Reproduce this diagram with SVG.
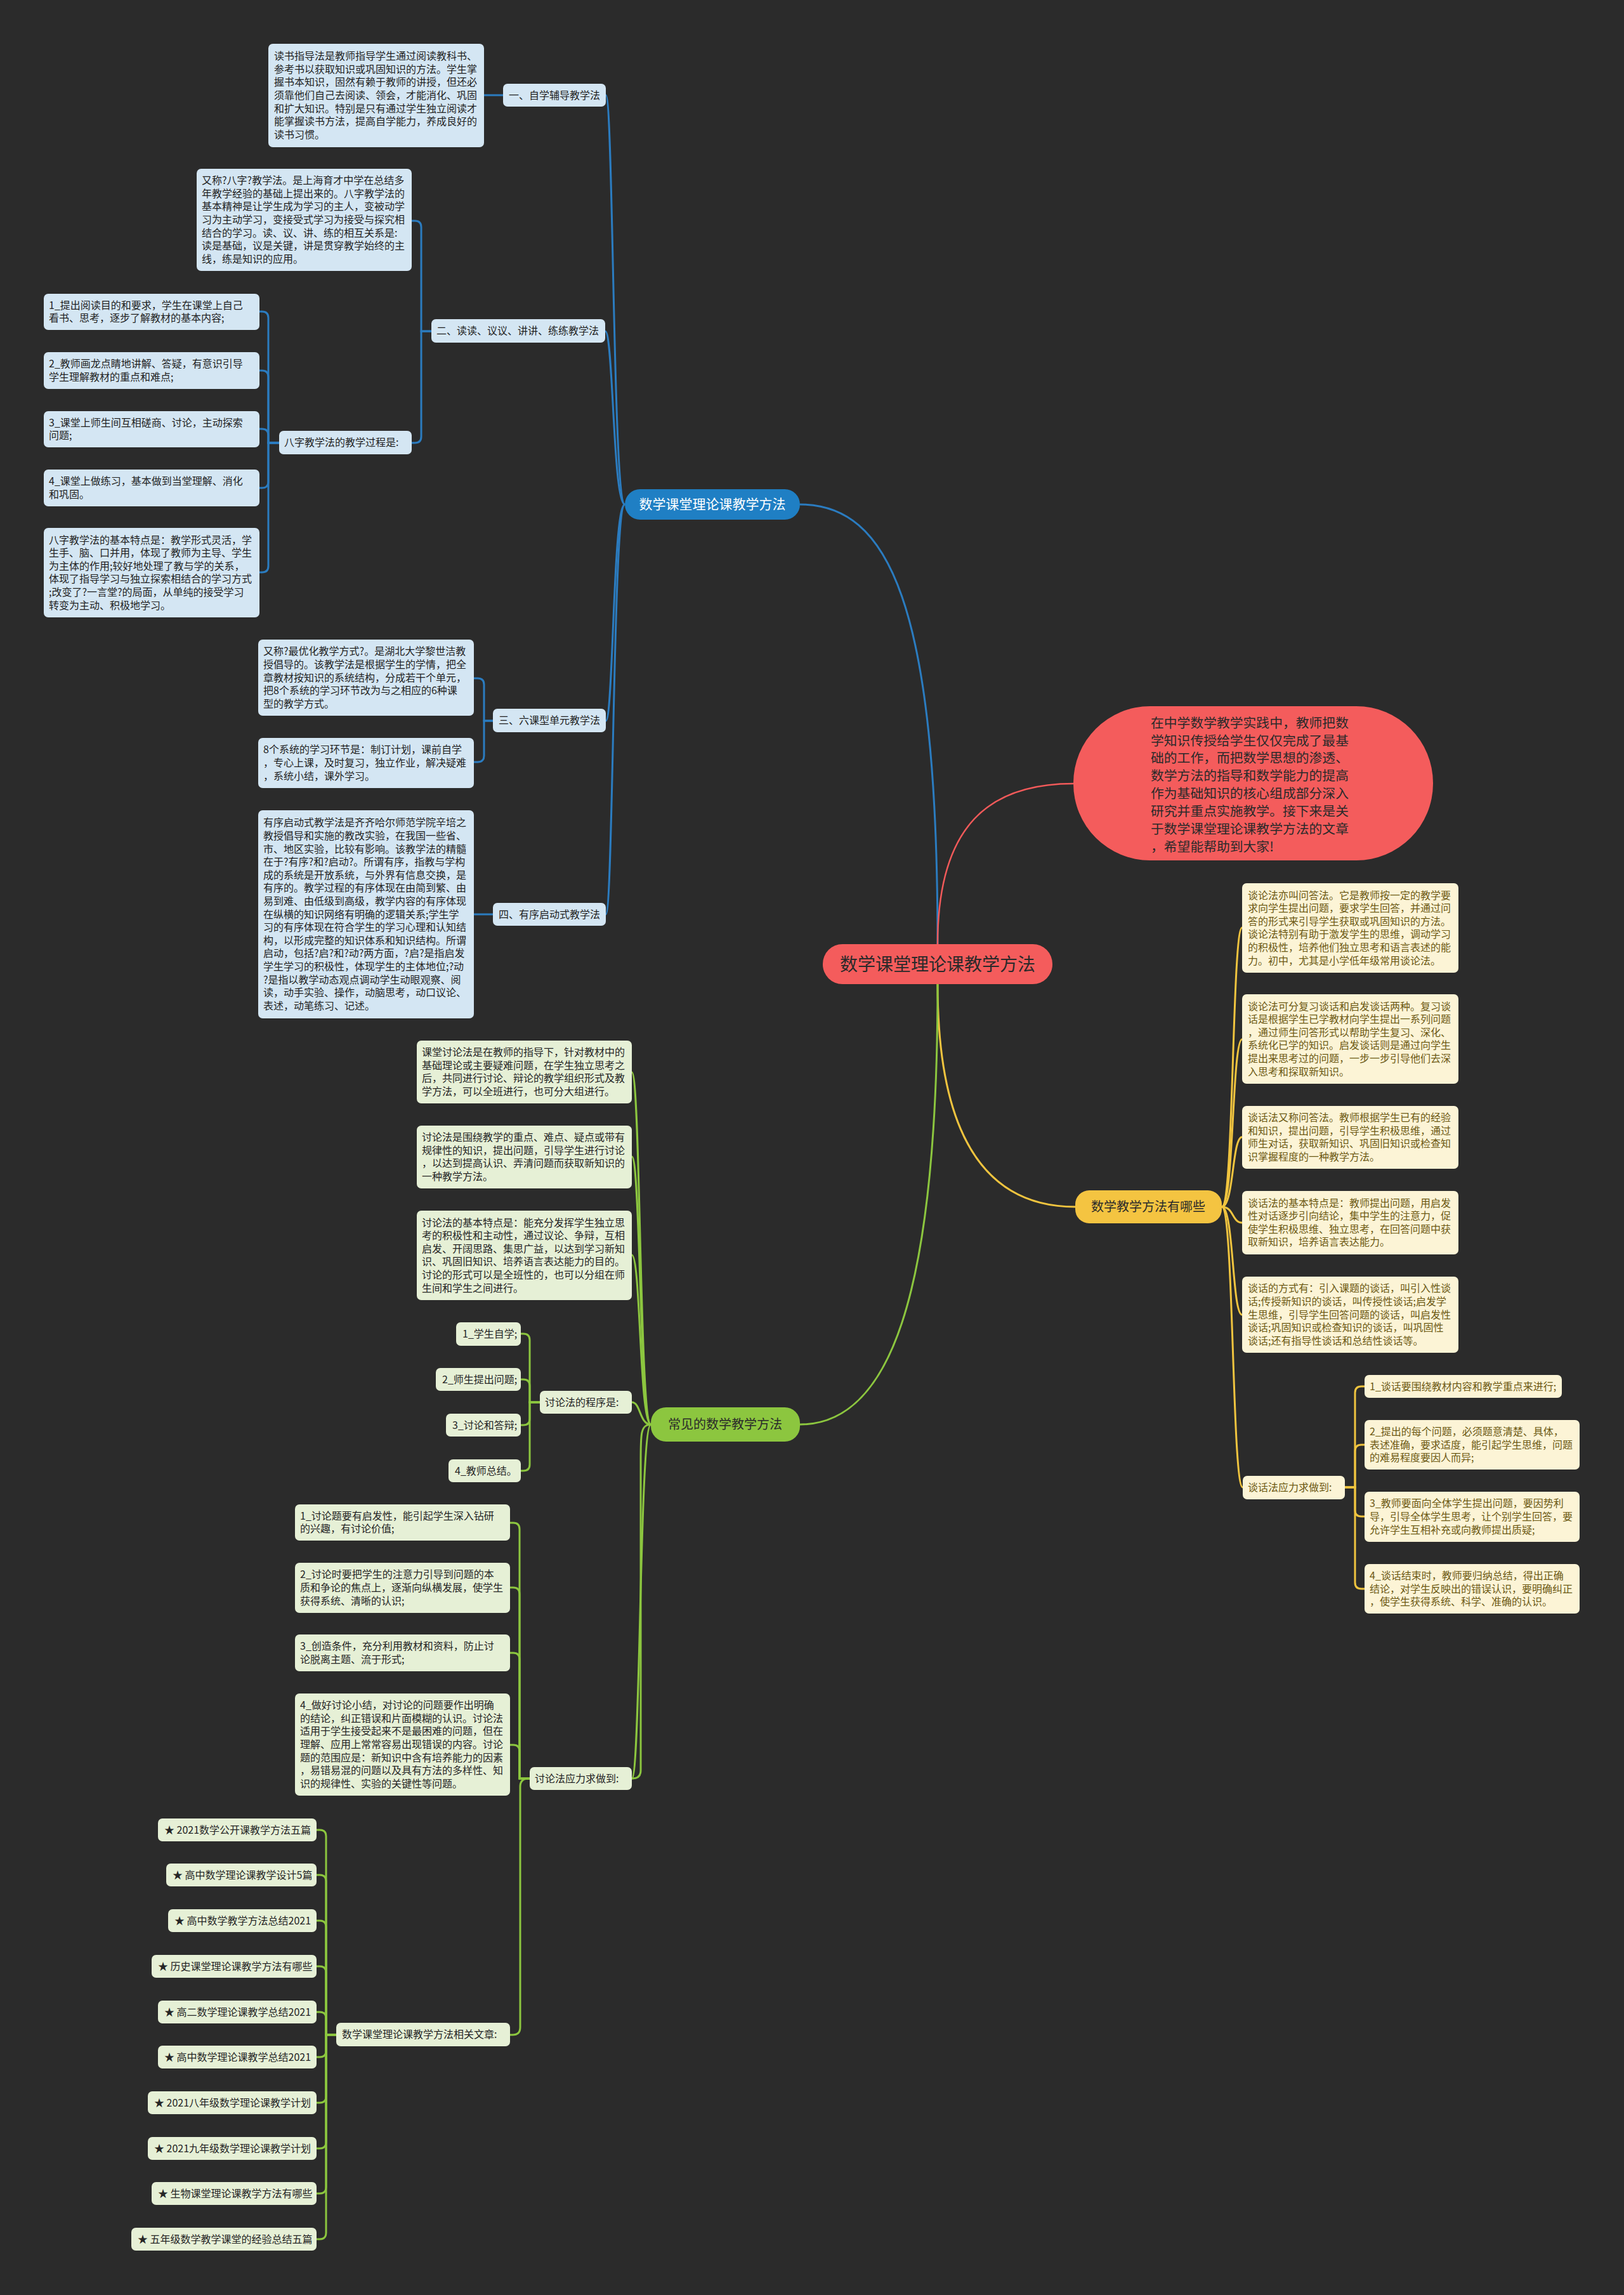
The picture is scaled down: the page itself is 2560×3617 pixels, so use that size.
<svg xmlns="http://www.w3.org/2000/svg" width="2560" height="3617" viewBox="0 0 2560 3617">
<style>
.t{font-family:"Noto Sans CJK SC","Noto Sans",sans-serif;font-size:16px}
.bb{fill:#d4e6f3}
.yb{fill:#fcf4d6}
.gb{fill:#e6f0d6}
.tb{fill:#1f1f1f}
.ty{fill:#6c5913}
.tg{fill:#252525}
.cb{stroke:#2b7cc0;stroke-width:3;fill:none}
.cy{stroke:#f0c43f;stroke-width:3;fill:none}
.cg{stroke:#8cc63f;stroke-width:3;fill:none}
.cr{stroke:#f25a5a;stroke-width:2.5;fill:none}
</style>
<rect width="2560" height="3617" fill="#2b2b2b"/>
<g id="connectors">
<path class="cb" d="M1478,1488 C1478,950 1400,795 1261,795"/>
<path class="cr" d="M1478,1488 C1478,1300 1560,1235 1692,1235"/>
<path class="cy" d="M1478,1551 C1478,1800 1560,1902 1695,1902"/>
<path class="cg" d="M1478,1551 C1478,2050 1400,2245 1261,2245"/>
<path class="cb" d="M985,795 C966,795 967,150 955,150"/>
<path class="cb" d="M985,795 C966,795 967,522 954,522"/>
<path class="cb" d="M985,795 C966,795 967,1136 955,1136"/>
<path class="cb" d="M985,795 C966,795 967,1441 955,1441"/>
<path class="cb" d="M793,150 H763"/>
<path class="cb" d="M680,522 H664 V358 Q664,348 654,348 H649"/>
<path class="cb" d="M680,522 H664 V688 Q664,698 654,698 H649"/>
<path class="cb" d="M440,698 H423 V501 Q423,491 413,491 H409"/>
<path class="cb" d="M440,698 H423 V594 Q423,584 413,584 H409"/>
<path class="cb" d="M440,698 H423 V686 Q423,676 413,676 H409"/>
<path class="cb" d="M440,698 H423 V759 Q423,769 413,769 H409"/>
<path class="cb" d="M440,698 H423 V892 Q423,902 413,902 H409"/>
<path class="cb" d="M777,1136 H763 V1079 Q763,1069 753,1069 H747"/>
<path class="cb" d="M777,1136 H763 V1191 Q763,1201 753,1201 H747"/>
<path class="cb" d="M777,1441 H747"/>
<path class="cy" d="M1926,1902 C1945,1902 1942,1462 1958,1462"/>
<path class="cy" d="M1926,1902 C1945,1902 1942,1638 1958,1638"/>
<path class="cy" d="M1926,1902 C1945,1902 1942,1792 1958,1792"/>
<path class="cy" d="M1926,1902 C1945,1902 1942,1927 1958,1927"/>
<path class="cy" d="M1926,1902 C1945,1902 1942,2072 1958,2072"/>
<path class="cy" d="M1926,1902 C1945,1902 1942,2344 1959,2344"/>
<path class="cy" d="M2120,2344 H2136 V2195 Q2136,2185 2146,2185 H2151"/>
<path class="cy" d="M2120,2344 H2136 V2287 Q2136,2277 2146,2277 H2151"/>
<path class="cy" d="M2120,2344 H2136 V2380 Q2136,2390 2146,2390 H2151"/>
<path class="cy" d="M2120,2344 H2136 V2494 Q2136,2504 2146,2504 H2151"/>
<path class="cg" d="M1026,2245 C1008,2245 1010,1690 996,1690"/>
<path class="cg" d="M1026,2245 C1008,2245 1010,1823 996,1823"/>
<path class="cg" d="M1026,2245 C1008,2245 1010,1978 996,1978"/>
<path class="cg" d="M1026,2245 C1008,2245 1010,2210 996,2210"/>
<path class="cg" d="M1026,2245 C1008,2245 1010,2803 996,2803"/>
<path class="cg" d="M1026,2245 C1010,2245 1010,2260 1010,2300 V2790 Q1010,2803 997,2803 H833 Q820,2803 820,2816 V3195 Q820,3207 808,3207 H804"/>
<path class="cg" d="M851,2210 H835 V2112 Q835,2102 825,2102 H821"/>
<path class="cg" d="M851,2210 H835 V2184 Q835,2174 825,2174 H821"/>
<path class="cg" d="M851,2210 H835 V2236 Q835,2246 825,2246 H821"/>
<path class="cg" d="M851,2210 H835 V2308 Q835,2318 825,2318 H821"/>
<path class="cg" d="M835,2803 H819 V2410 Q819,2400 809,2400 H804"/>
<path class="cg" d="M835,2803 H819 V2512 Q819,2502 809,2502 H804"/>
<path class="cg" d="M835,2803 H819 V2615 Q819,2605 809,2605 H804"/>
<path class="cg" d="M835,2803 H819 V2760 Q819,2750 809,2750 H804"/>
<path class="cg" d="M530,3207 H514 V2894 Q514,2884 504,2884 H499"/>
<path class="cg" d="M530,3207 H514 V2965 Q514,2955 504,2955 H499"/>
<path class="cg" d="M530,3207 H514 V3037 Q514,3027 504,3027 H499"/>
<path class="cg" d="M530,3207 H514 V3109 Q514,3099 504,3099 H499"/>
<path class="cg" d="M530,3207 H514 V3181 Q514,3171 504,3171 H499"/>
<path class="cg" d="M530,3207 H514 V3232 Q514,3242 504,3242 H499"/>
<path class="cg" d="M530,3207 H514 V3304 Q514,3314 504,3314 H499"/>
<path class="cg" d="M530,3207 H514 V3376 Q514,3386 504,3386 H499"/>
<path class="cg" d="M530,3207 H514 V3447 Q514,3457 504,3457 H499"/>
<path class="cg" d="M530,3207 H514 V3519 Q514,3529 504,3529 H499"/>
</g>
<g id="root"><rect x="1297" y="1488" width="362" height="63" rx="31" fill="#f45c5c"/><text x="1478" y="1530" text-anchor="middle" font-family="Noto Sans CJK SC,sans-serif" font-size="28" fill="#2a2a2a">数学课堂理论课教学方法</text></g>
<g id="intro"><rect x="1692" y="1113" width="567" height="243" rx="121" fill="#f45c5c"/><text class="t" x="1814" y="1146.6" style="font-size:20.8px" fill="#2a2a2a"><tspan x="1814">在中学数学教学实践中，教师把数</tspan><tspan x="1814" dy="27.9">学知识传授给学生仅仅完成了最基</tspan><tspan x="1814" dy="27.9">础的工作，而把数学思想的渗透、</tspan><tspan x="1814" dy="27.9">数学方法的指导和数学能力的提高</tspan><tspan x="1814" dy="27.9">作为基础知识的核心组成部分深入</tspan><tspan x="1814" dy="27.9">研究并重点实施教学。接下来是关</tspan><tspan x="1814" dy="27.9">于数学课堂理论课教学方法的文章</tspan><tspan x="1814" dy="27.9">，希望能帮助到大家!</tspan></text></g>
<g id="blue-main"><rect x="985" y="771" width="276" height="48" rx="24" fill="#1f7fc4"/><text x="1123" y="802" text-anchor="middle" class="t" style="font-size:21px" fill="#ffffff">数学课堂理论课教学方法</text></g>
<g id="yellow-main"><rect x="1695" y="1876" width="231" height="52" rx="22" fill="#f4c441"/><text x="1810" y="1909" text-anchor="middle" class="t" style="font-size:20px" fill="#2a2a2a">数学教学方法有哪些</text></g>
<g id="green-main"><rect x="1026" y="2218" width="235" height="54" rx="24" fill="#8cc63f"/><text x="1143" y="2252" text-anchor="middle" class="t" style="font-size:20px" fill="#2a2a2a">常见的数学教学方法</text></g>

<g id="b1"><rect class="bb" x="423" y="69" width="340" height="163" rx="7"/><text class="t tb" x="432" y="94.2"><tspan x="432">读书指导法是教师指导学生通过阅读教科书、</tspan><tspan x="432" dy="20.6">参考书以获取知识或巩固知识的方法。学生掌</tspan><tspan x="432" dy="20.6">握书本知识，固然有赖于教师的讲授，但还必</tspan><tspan x="432" dy="20.6">须靠他们自己去阅读、领会，才能消化、巩固</tspan><tspan x="432" dy="20.6">和扩大知识。特别是只有通过学生独立阅读才</tspan><tspan x="432" dy="20.6">能掌握读书方法，提高自学能力，养成良好的</tspan><tspan x="432" dy="20.6">读书习惯。</tspan></text></g>
<g id="l1"><rect class="bb" x="793" y="132" width="162" height="36" rx="7"/><text class="t tb" x="802" y="155.5">一、自学辅导教学法</text></g>
<g id="b2"><rect class="bb" x="310" y="266" width="339" height="161" rx="7"/><text class="t tb" x="318" y="290.2"><tspan x="318">又称?八字?教学法。是上海育才中学在总结多</tspan><tspan x="318" dy="20.6">年教学经验的基础上提出来的。八字教学法的</tspan><tspan x="318" dy="20.6">基本精神是让学生成为学习的主人，变被动学</tspan><tspan x="318" dy="20.6">习为主动学习，变接受式学习为接受与探究相</tspan><tspan x="318" dy="20.6">结合的学习。读、议、讲、练的相互关系是:</tspan><tspan x="318" dy="20.6">读是基础，议是关键，讲是贯穿教学始终的主</tspan><tspan x="318" dy="20.6">线，练是知识的应用。</tspan></text></g>
<g id="l2"><rect class="bb" x="680" y="503" width="274" height="37" rx="7"/><text class="t tb" x="688" y="527">二、读读、议议、讲讲、练练教学法</text></g>
<g id="l2a"><rect class="bb" x="440" y="679" width="209" height="37" rx="7"/><text class="t tb" x="448" y="703">八字教学法的教学过程是:</text></g>
<g id="ba"><rect class="bb" x="69" y="463" width="340" height="57" rx="7"/><text class="t tb" x="77" y="486.7"><tspan x="77">1_提出阅读目的和要求，学生在课堂上自己</tspan><tspan x="77" dy="20.6">看书、思考，逐步了解教材的基本内容;</tspan></text></g>
<g id="bbx"><rect class="bb" x="69" y="555" width="340" height="58" rx="7"/><text class="t tb" x="77" y="579.2"><tspan x="77">2_教师画龙点睛地讲解、答疑，有意识引导</tspan><tspan x="77" dy="20.6">学生理解教材的重点和难点;</tspan></text></g>
<g id="bc"><rect class="bb" x="69" y="648" width="340" height="57" rx="7"/><text class="t tb" x="77" y="671.7"><tspan x="77">3_课堂上师生间互相磋商、讨论，主动探索</tspan><tspan x="77" dy="20.6">问题;</tspan></text></g>
<g id="bd"><rect class="bb" x="69" y="740" width="340" height="58" rx="7"/><text class="t tb" x="77" y="764.2"><tspan x="77">4_课堂上做练习，基本做到当堂理解、消化</tspan><tspan x="77" dy="20.6">和巩固。</tspan></text></g>
<g id="be"><rect class="bb" x="69" y="832" width="340" height="141" rx="7"/><text class="t tb" x="77" y="856.5"><tspan x="77">八字教学法的基本特点是：教学形式灵活，学</tspan><tspan x="77" dy="20.6">生手、脑、口并用，体现了教师为主导、学生</tspan><tspan x="77" dy="20.6">为主体的作用;较好地处理了教与学的关系，</tspan><tspan x="77" dy="20.6">体现了指导学习与独立探索相结合的学习方式</tspan><tspan x="77" dy="20.6">;改变了?一言堂?的局面，从单纯的接受学习</tspan><tspan x="77" dy="20.6">转变为主动、积极地学习。</tspan></text></g>
<g id="bf"><rect class="bb" x="407" y="1008" width="340" height="120" rx="7"/><text class="t tb" x="415" y="1032.3"><tspan x="415">又称?最优化教学方式?。是湖北大学黎世洁教</tspan><tspan x="415" dy="20.6">授倡导的。该教学法是根据学生的学情，把全</tspan><tspan x="415" dy="20.6">章教材按知识的系统结构，分成若干个单元，</tspan><tspan x="415" dy="20.6">把8个系统的学习环节改为与之相应的6种课</tspan><tspan x="415" dy="20.6">型的教学方式。</tspan></text></g>
<g id="bg"><rect class="bb" x="407" y="1163" width="340" height="79" rx="7"/><text class="t tb" x="415" y="1187.4"><tspan x="415">8个系统的学习环节是：制订计划，课前自学</tspan><tspan x="415" dy="20.6">，专心上课，及时复习，独立作业，解决疑难</tspan><tspan x="415" dy="20.6">，系统小结，课外学习。</tspan></text></g>
<g id="l3"><rect class="bb" x="777" y="1117" width="178" height="37" rx="7"/><text class="t tb" x="786" y="1141">三、六课型单元教学法</text></g>
<g id="bh"><rect class="bb" x="407" y="1277" width="340" height="328" rx="7"/><text class="t tb" x="415" y="1302.3"><tspan x="415">有序启动式教学法是齐齐哈尔师范学院辛培之</tspan><tspan x="415" dy="20.6">教授倡导和实施的教改实验，在我国一些省、</tspan><tspan x="415" dy="20.6">市、地区实验，比较有影响。该教学法的精髓</tspan><tspan x="415" dy="20.6">在于?有序?和?启动?。所谓有序，指教与学构</tspan><tspan x="415" dy="20.6">成的系统是开放系统，与外界有信息交换，是</tspan><tspan x="415" dy="20.6">有序的。教学过程的有序体现在由简到繁、由</tspan><tspan x="415" dy="20.6">易到难、由低级到高级，教学内容的有序体现</tspan><tspan x="415" dy="20.6">在纵横的知识网络有明确的逻辑关系;学生学</tspan><tspan x="415" dy="20.6">习的有序体现在符合学生的学习心理和认知结</tspan><tspan x="415" dy="20.6">构，以形成完整的知识体系和知识结构。所谓</tspan><tspan x="415" dy="20.6">启动，包括?启?和?动?两方面，?启?是指启发</tspan><tspan x="415" dy="20.6">学生学习的积极性，体现学生的主体地位;?动</tspan><tspan x="415" dy="20.6">?是指以教学动态观点调动学生动眼观察、阅</tspan><tspan x="415" dy="20.6">读，动手实验、操作，动脑思考，动口议论、</tspan><tspan x="415" dy="20.6">表述，动笔练习、记述。</tspan></text></g>
<g id="l4"><rect class="bb" x="777" y="1423" width="178" height="36" rx="7"/><text class="t tb" x="786" y="1446.5">四、有序启动式教学法</text></g>

<g id="y1"><rect class="yb" x="1958" y="1392" width="341" height="141" rx="7"/><text class="t ty" x="1967" y="1416.5"><tspan x="1967">谈论法亦叫问答法。它是教师按一定的教学要</tspan><tspan x="1967" dy="20.6">求向学生提出问题，要求学生回答，并通过问</tspan><tspan x="1967" dy="20.6">答的形式来引导学生获取或巩固知识的方法。</tspan><tspan x="1967" dy="20.6">谈论法特别有助于激发学生的思维，调动学习</tspan><tspan x="1967" dy="20.6">的积极性，培养他们独立思考和语言表述的能</tspan><tspan x="1967" dy="20.6">力。初中，尤其是小学低年级常用谈论法。</tspan></text></g>
<g id="y2"><rect class="yb" x="1958" y="1567" width="341" height="141" rx="7"/><text class="t ty" x="1967" y="1591.5"><tspan x="1967">谈论法可分复习谈话和启发谈话两种。复习谈</tspan><tspan x="1967" dy="20.6">话是根据学生已学教材向学生提出一系列问题</tspan><tspan x="1967" dy="20.6">，通过师生问答形式以帮助学生复习、深化、</tspan><tspan x="1967" dy="20.6">系统化已学的知识。启发谈话则是通过向学生</tspan><tspan x="1967" dy="20.6">提出来思考过的问题，一步一步引导他们去深</tspan><tspan x="1967" dy="20.6">入思考和探取新知识。</tspan></text></g>
<g id="y3"><rect class="yb" x="1958" y="1743" width="341" height="99" rx="7"/><text class="t ty" x="1967" y="1767.1"><tspan x="1967">谈话法又称问答法。教师根据学生已有的经验</tspan><tspan x="1967" dy="20.6">和知识，提出问题，引导学生积极思维，通过</tspan><tspan x="1967" dy="20.6">师生对话，获取新知识、巩固旧知识或检查知</tspan><tspan x="1967" dy="20.6">识掌握程度的一种教学方法。</tspan></text></g>
<g id="y4"><rect class="yb" x="1958" y="1877" width="341" height="100" rx="7"/><text class="t ty" x="1967" y="1901.6"><tspan x="1967">谈话法的基本特点是：教师提出问题，用启发</tspan><tspan x="1967" dy="20.6">性对话逐步引向结论，集中学生的注意力，促</tspan><tspan x="1967" dy="20.6">使学生积极思维、独立思考，在回答问题中获</tspan><tspan x="1967" dy="20.6">取新知识，培养语言表达能力。</tspan></text></g>
<g id="y5"><rect class="yb" x="1958" y="2012" width="341" height="120" rx="7"/><text class="t ty" x="1967" y="2036.3"><tspan x="1967">谈话的方式有：引入课题的谈话，叫引入性谈</tspan><tspan x="1967" dy="20.6">话;传授新知识的谈话，叫传授性谈话;启发学</tspan><tspan x="1967" dy="20.6">生思维，引导学生回答问题的谈话，叫启发性</tspan><tspan x="1967" dy="20.6">谈话;巩固知识或检查知识的谈话，叫巩固性</tspan><tspan x="1967" dy="20.6">谈话;还有指导性谈话和总结性谈话等。</tspan></text></g>
<g id="yl"><rect class="yb" x="1959" y="2326" width="161" height="37" rx="7"/><text class="t ty" x="1967" y="2350">谈话法应力求做到:</text></g>
<g id="yc1"><rect class="yb" x="2151" y="2167" width="311" height="36" rx="7"/><text class="t ty" x="2159" y="2190.5">1_谈话要围绕教材内容和教学重点来进行;</text></g>
<g id="yc2"><rect class="yb" x="2151" y="2238" width="339" height="78" rx="7"/><text class="t ty" x="2159" y="2261.9"><tspan x="2159">2_提出的每个问题，必须题意清楚、具体，</tspan><tspan x="2159" dy="20.6">表述准确，要求适度，能引起学生思维，问题</tspan><tspan x="2159" dy="20.6">的难易程度要因人而异;</tspan></text></g>
<g id="yc3"><rect class="yb" x="2151" y="2351" width="339" height="79" rx="7"/><text class="t ty" x="2159" y="2375.4"><tspan x="2159">3_教师要面向全体学生提出问题，要因势利</tspan><tspan x="2159" dy="20.6">导，引导全体学生思考，让个别学生回答，要</tspan><tspan x="2159" dy="20.6">允许学生互相补充或向教师提出质疑;</tspan></text></g>
<g id="yc4"><rect class="yb" x="2151" y="2465" width="339" height="78" rx="7"/><text class="t ty" x="2159" y="2488.9"><tspan x="2159">4_谈话结束时，教师要归纳总结，得出正确</tspan><tspan x="2159" dy="20.6">结论，对学生反映出的错误认识，要明确纠正</tspan><tspan x="2159" dy="20.6">，使学生获得系统、科学、准确的认识。</tspan></text></g>

<g id="g1"><rect class="gb" x="657" y="1640" width="339" height="99" rx="7"/><text class="t tg" x="665" y="1664.1"><tspan x="665">课堂讨论法是在教师的指导下，针对教材中的</tspan><tspan x="665" dy="20.6">基础理论或主要疑难问题，在学生独立思考之</tspan><tspan x="665" dy="20.6">后，共同进行讨论、辩论的教学组织形式及教</tspan><tspan x="665" dy="20.6">学方法，可以全班进行，也可分大组进行。</tspan></text></g>
<g id="g2"><rect class="gb" x="657" y="1774" width="339" height="99" rx="7"/><text class="t tg" x="665" y="1798.1"><tspan x="665">讨论法是围绕教学的重点、难点、疑点或带有</tspan><tspan x="665" dy="20.6">规律性的知识，提出问题，引导学生进行讨论</tspan><tspan x="665" dy="20.6">，以达到提高认识、弄清问题而获取新知识的</tspan><tspan x="665" dy="20.6">一种教学方法。</tspan></text></g>
<g id="g3"><rect class="gb" x="657" y="1908" width="339" height="141" rx="7"/><text class="t tg" x="665" y="1932.5"><tspan x="665">讨论法的基本特点是：能充分发挥学生独立思</tspan><tspan x="665" dy="20.6">考的积极性和主动性，通过议论、争辩，互相</tspan><tspan x="665" dy="20.6">启发、开阔思路、集思广益，以达到学习新知</tspan><tspan x="665" dy="20.6">识、巩固旧知识、培养语言表达能力的目的。</tspan><tspan x="665" dy="20.6">讨论的形式可以是全班性的，也可以分组在师</tspan><tspan x="665" dy="20.6">生间和学生之间进行。</tspan></text></g>
<g id="gp"><rect class="gb" x="851" y="2192" width="145" height="36" rx="7"/><text class="t tg" x="859" y="2215.5">讨论法的程序是:</text></g>
<g id="gp1"><rect class="gb" x="719" y="2084" width="102" height="37" rx="7"/><text class="t tg" x="729" y="2108">1_学生自学;</text></g>
<g id="gp2"><rect class="gb" x="687" y="2156" width="134" height="36" rx="7"/><text class="t tg" x="697" y="2179.5">2_师生提出问题;</text></g>
<g id="gp3"><rect class="gb" x="703" y="2228" width="118" height="36" rx="7"/><text class="t tg" x="713" y="2251.5">3_讨论和答辩;</text></g>
<g id="gp4"><rect class="gb" x="707" y="2300" width="114" height="36" rx="7"/><text class="t tg" x="717" y="2323.5">4_教师总结。</text></g>
<g id="gt1"><rect class="gb" x="465" y="2371" width="339" height="57" rx="7"/><text class="t tg" x="473" y="2394.7"><tspan x="473">1_讨论题要有启发性，能引起学生深入钻研</tspan><tspan x="473" dy="20.6">的兴趣，有讨论价值;</tspan></text></g>
<g id="gt2"><rect class="gb" x="465" y="2463" width="339" height="79" rx="7"/><text class="t tg" x="473" y="2487.4"><tspan x="473">2_讨论时要把学生的注意力引导到问题的本</tspan><tspan x="473" dy="20.6">质和争论的焦点上，逐渐向纵横发展，使学生</tspan><tspan x="473" dy="20.6">获得系统、清晰的认识;</tspan></text></g>
<g id="gt3"><rect class="gb" x="465" y="2576" width="339" height="58" rx="7"/><text class="t tg" x="473" y="2600.2"><tspan x="473">3_创造条件，充分利用教材和资料，防止讨</tspan><tspan x="473" dy="20.6">论脱离主题、流于形式;</tspan></text></g>
<g id="gt4"><rect class="gb" x="465" y="2669" width="339" height="161" rx="7"/><text class="t tg" x="473" y="2693.2"><tspan x="473">4_做好讨论小结，对讨论的问题要作出明确</tspan><tspan x="473" dy="20.6">的结论，纠正错误和片面模糊的认识。讨论法</tspan><tspan x="473" dy="20.6">适用于学生接受起来不是最困难的问题，但在</tspan><tspan x="473" dy="20.6">理解、应用上常常容易出现错误的内容。讨论</tspan><tspan x="473" dy="20.6">题的范围应是：新知识中含有培养能力的因素</tspan><tspan x="473" dy="20.6">，易错易混的问题以及具有方法的多样性、知</tspan><tspan x="473" dy="20.6">识的规律性、实验的关键性等问题。</tspan></text></g>
<g id="gl"><rect class="gb" x="835" y="2785" width="161" height="36" rx="7"/><text class="t tg" x="843" y="2808.5">讨论法应力求做到:</text></g>
<g id="gr"><rect class="gb" x="530" y="3188" width="274" height="37" rx="7"/><text class="t tg" x="539" y="3212">数学课堂理论课教学方法相关文章:</text></g>
<g id="a1"><rect class="gb" x="249" y="2866" width="250" height="36" rx="7"/><text class="t tg" x="259" y="2889.5">★ 2021数学公开课教学方法五篇</text></g>
<g id="a2"><rect class="gb" x="262" y="2937" width="237" height="36" rx="7"/><text class="t tg" x="272" y="2960.5">★ 高中数学理论课教学设计5篇</text></g>
<g id="a3"><rect class="gb" x="265" y="3009" width="234" height="36" rx="7"/><text class="t tg" x="275" y="3032.5">★ 高中数学教学方法总结2021</text></g>
<g id="a4"><rect class="gb" x="239" y="3081" width="260" height="36" rx="7"/><text class="t tg" x="249" y="3104.5">★ 历史课堂理论课教学方法有哪些</text></g>
<g id="a5"><rect class="gb" x="249" y="3153" width="250" height="36" rx="7"/><text class="t tg" x="259" y="3176.5">★ 高二数学理论课教学总结2021</text></g>
<g id="a6"><rect class="gb" x="249" y="3224" width="250" height="36" rx="7"/><text class="t tg" x="259" y="3247.5">★ 高中数学理论课教学总结2021</text></g>
<g id="a7"><rect class="gb" x="233" y="3296" width="266" height="36" rx="7"/><text class="t tg" x="243" y="3319.5">★ 2021八年级数学理论课教学计划</text></g>
<g id="a8"><rect class="gb" x="233" y="3368" width="266" height="36" rx="7"/><text class="t tg" x="243" y="3391.5">★ 2021九年级数学理论课教学计划</text></g>
<g id="a9"><rect class="gb" x="239" y="3439" width="260" height="36" rx="7"/><text class="t tg" x="249" y="3462.5">★ 生物课堂理论课教学方法有哪些</text></g>
<g id="a10"><rect class="gb" x="207" y="3511" width="292" height="36" rx="7"/><text class="t tg" x="217" y="3534.5">★ 五年级数学教学课堂的经验总结五篇</text></g>
</svg>
